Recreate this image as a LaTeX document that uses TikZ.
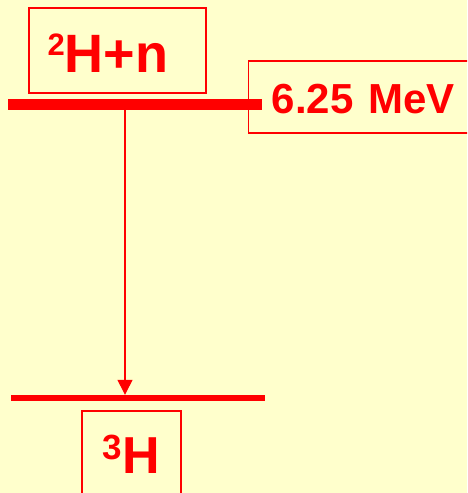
\documentclass[tikz,border=0pt]{standalone}
\usepackage{fontspec}
\setmainfont{Liberation Sans}
\usetikzlibrary{arrows.meta}
\definecolor{paper}{HTML}{FFFFCC}
\definecolor{hot}{HTML}{FF0000}
\tikzset{
  labelbox/.style={draw=hot, line width=1.3pt, text=hot, font=\bfseries, inner sep=0pt},
  level/.style={fill=hot, inner sep=0pt, minimum width=254pt}
}
\newcommand{\isotope}[3]{\raisebox{#3}{\fontsize{#2}{#2}\selectfont #1}}
\begin{document}
\begin{tikzpicture}[x=1pt, y=-1pt, >={Triangle[length=15pt, width=15pt]}]
\useasboundingbox (0,0) rectangle (467,493);
\clip (0,0) rectangle (467,493);
\fill[paper] (0,0) rectangle (467,493);

% boxes, each placed by the baseline of its text
\node[labelbox, anchor=base, minimum width=177pt, text height=64pt, text depth=21pt] (initial) at (117.5,72) {\fontsize{54}{54}\selectfont\isotope{2}{31}{17pt}H+n\hspace*{19pt}};
\node[labelbox, anchor=base west, text height=52pt, text depth=20pt] (energy) at (248,113) {\hspace*{23pt}\fontsize{42}{42}\selectfont 6.25\hspace{15pt}MeV\hspace*{30pt}};
\node[labelbox, anchor=base, minimum width=99pt, text height=62pt, text depth=30pt] (final) at (131.5,473) {\fontsize{52}{52}\selectfont\isotope{3}{35}{14pt}H};

% levels
\node[level, minimum height=11pt] (upper) at (135,104.5) {};
\node[level, minimum height=6pt] (lower) at (137.5,398) {};

\coordinate (drop) at (125,0);
\draw[->, hot, line width=1.3pt] (upper.south -| drop) -- (lower.north -| drop);
\end{tikzpicture}
\end{document}
